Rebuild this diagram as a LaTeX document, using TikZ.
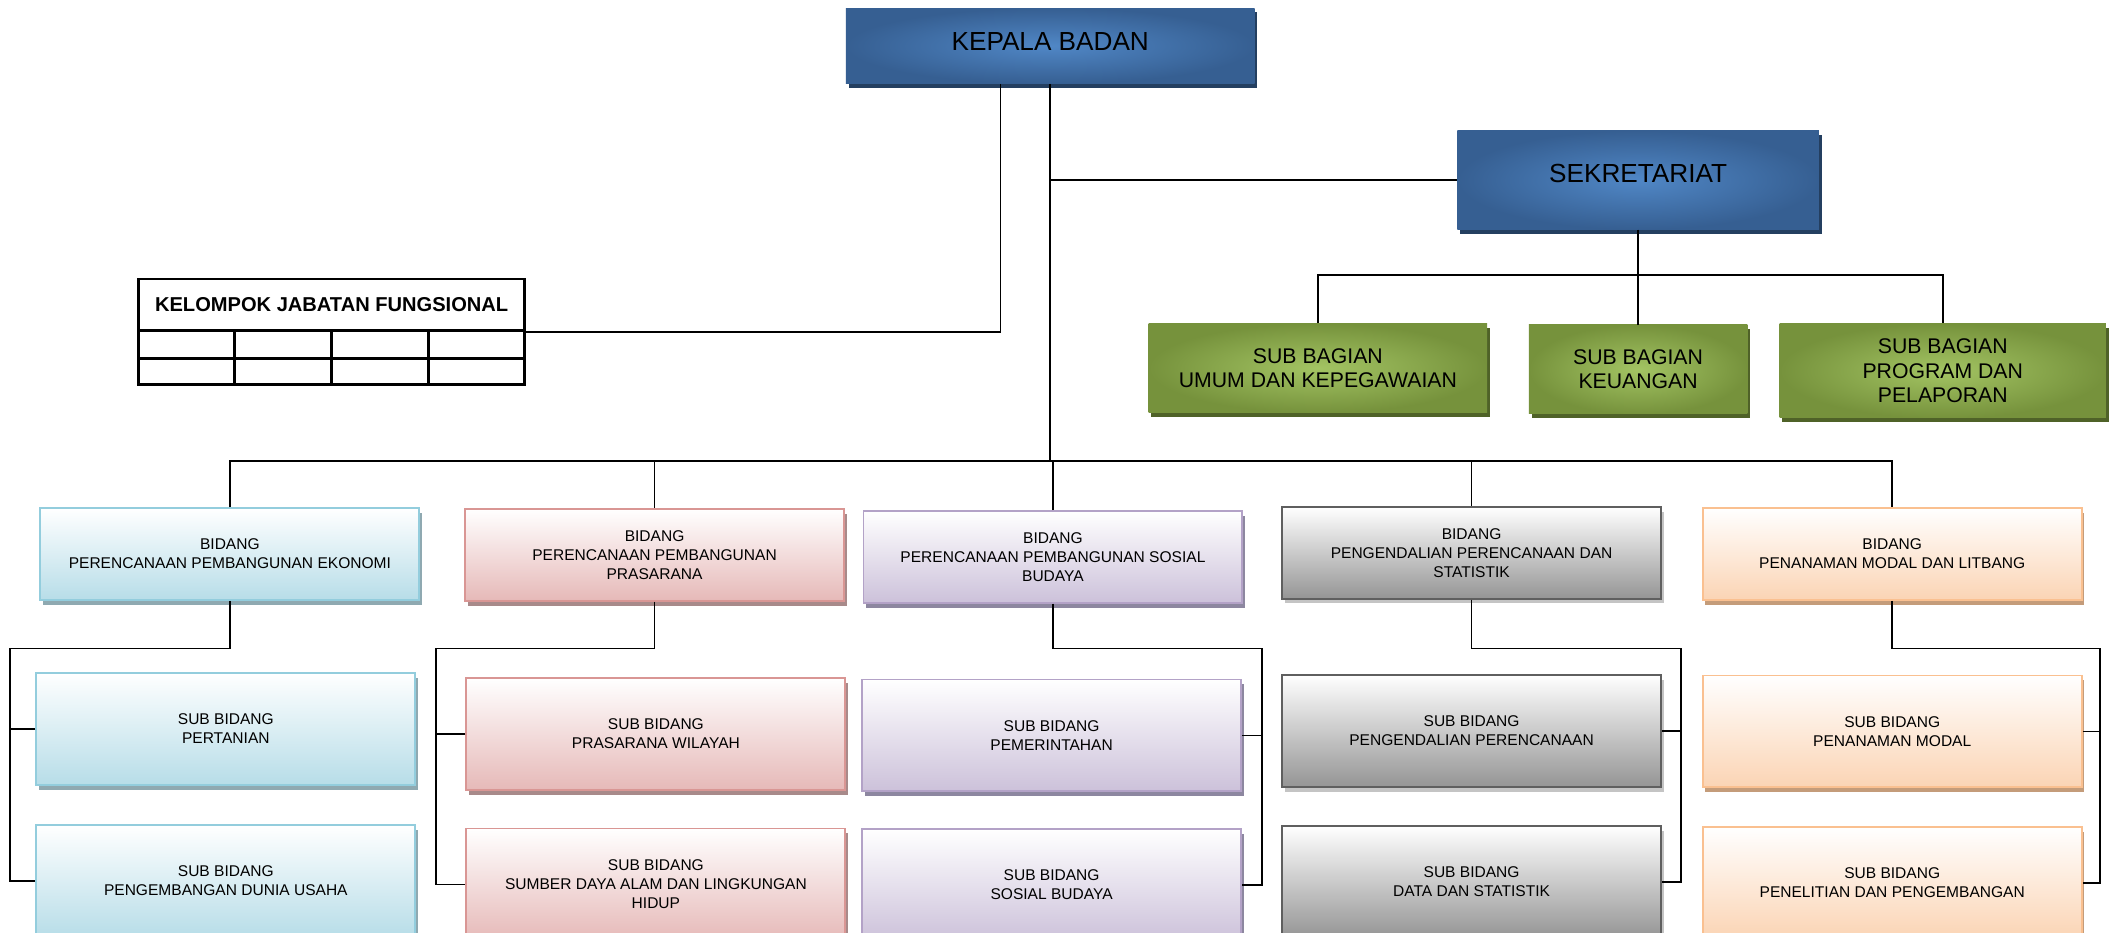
\documentclass[tikz,border=0pt]{standalone}
\usepackage{fontspec}
\setmainfont{Liberation Sans}
\usetikzlibrary{calc,shadows}

\definecolor{kbIn}{HTML}{5087C6}
\definecolor{kbOut}{HTML}{365F92}
\definecolor{kbSh}{HTML}{243F60}
\definecolor{sbIn}{HTML}{A3C463}
\definecolor{sbOut}{HTML}{76923C}
\definecolor{sbSh}{HTML}{4F6228}
\definecolor{ekoFill}{HTML}{B7DDE8}
\definecolor{ekoLine}{HTML}{93CDDD}
\definecolor{ekoSh}{HTML}{8FA9B1}
\definecolor{praFill}{HTML}{E6B9B8}
\definecolor{praLine}{HTML}{D99694}
\definecolor{praSh}{HTML}{A88A8A}
\definecolor{sosFill}{HTML}{CCC1DA}
\definecolor{sosLine}{HTML}{B3A2C7}
\definecolor{sosSh}{HTML}{8D87A0}
\definecolor{datFill}{HTML}{959595}
\definecolor{datLine}{HTML}{5F5F5F}
\definecolor{datSh}{HTML}{C4C4C4}
\definecolor{modFill}{HTML}{FBD4B4}
\definecolor{modLine}{HTML}{FAC090}
\definecolor{modSh}{HTML}{C49C7A}

\tikzset{
  conn/.style={line width=0.9pt},
  tbl/.style={line width=1.4pt},
  topbox/.style={rectangle, inner color=kbIn, outer color=kbOut, align=center,
    font=\fontsize{13.8}{16}\selectfont,
    drop shadow={shadow xshift=0.05cm, shadow yshift=-0.08cm, fill=kbSh, opacity=1}},
  greenbox/.style={rectangle, inner color=sbIn, outer color=sbOut, align=center,
    minimum height=1.65cm, font=\fontsize{11.2}{12.8}\selectfont,
    drop shadow={shadow xshift=0.05cm, shadow yshift=-0.08cm, fill=sbSh, opacity=1}},
  bidang/.style={rectangle, top color=white, bottom color=#1Fill, draw=#1Line,
    line width=1pt, minimum width=7.025cm, minimum height=1.7cm, align=center,
    font=\fontsize{8.2}{10}\selectfont,
    drop shadow={shadow xshift=0.05cm, shadow yshift=-0.09cm, fill=#1Sh, opacity=1}},
  subbid/.style={bidang=#1, minimum height=2.075cm}
}

\begin{document}
\begin{tikzpicture}[x=0.025cm,y=-0.025cm]
  \fill[white] (0,0) rectangle (1568,692);
  \useasboundingbox (0,0) rectangle (1568,692);

  % pimpinan dan sekretariat
  \node[topbox, minimum width=7.575cm, minimum height=1.4cm, text depth=0.15cm] (kepala) at (779,34) {KEPALA BADAN};
  \node[topbox, minimum width=6.7cm, minimum height=1.825cm, text depth=0.25cm] (sekr) at (1215,133.5) {SEKRETARIAT};
  \node[greenbox, minimum width=6.275cm] (umum) at (977.5,273) {SUB BAGIAN\\UMUM DAN KEPEGAWAIAN};
  \node[greenbox, minimum width=4.05cm] (keu) at (1215,274) {SUB BAGIAN\\KEUANGAN};
  \node[greenbox, minimum width=6.05cm, minimum height=1.75cm] (prog) at (1441,275) {SUB BAGIAN\\PROGRAM DAN\\PELAPORAN};

  % kelompok jabatan fungsional
  \node[draw, tbl, minimum width=7.15cm, minimum height=1.95cm] (kjf) at (246,246) {};
  \node[draw, tbl, anchor=north, minimum width=7.15cm, minimum height=0.95cm,
    font=\bfseries\fontsize{10.6}{12}\selectfont] (kjftitle) at (kjf.north) {KELOMPOK JABATAN FUNGSIONAL};
  \draw[tbl] ($(kjftitle.south west)!0.5!(kjf.south west)$) -- ($(kjftitle.south east)!0.5!(kjf.south east)$);
  \foreach \i in {1,2,3}
    \draw[tbl] ($(kjftitle.south west)!\i/4!(kjftitle.south east)$) -- ($(kjf.south west)!\i/4!(kjf.south east)$);

  % bidang
  \node[bidang=eko] (b1) at (170.5,411) {BIDANG\\PERENCANAAN PEMBANGUNAN EKONOMI};
  \node[bidang=pra] (b2) at (485.5,411.5) {BIDANG\\PERENCANAAN PEMBANGUNAN\\PRASARANA};
  \node[bidang=sos] (b3) at (781,413) {BIDANG\\PERENCANAAN PEMBANGUNAN SOSIAL\\BUDAYA};
  \node[bidang=dat] (b4) at (1091.5,410) {BIDANG\\PENGENDALIAN PERENCANAAN DAN\\STATISTIK};
  \node[bidang=mod] (b5) at (1403.5,411) {BIDANG\\PENANAMAN MODAL DAN LITBANG};

  % sub bidang
  \node[subbid=eko] (s11) at (167.5,540.5) {SUB BIDANG\\PERTANIAN};
  \node[subbid=eko] (s12) at (167.5,653.5) {SUB BIDANG\\PENGEMBANGAN DUNIA USAHA};
  \node[subbid=pra] (s21) at (486.5,544.5) {SUB BIDANG\\PRASARANA WILAYAH};
  \node[subbid=pra] (s22) at (486.5,656) {SUB BIDANG\\SUMBER DAYA ALAM DAN LINGKUNGAN\\HIDUP};
  \node[subbid=sos] (s31) at (780,545.5) {SUB BIDANG\\PEMERINTAHAN};
  \node[subbid=sos] (s32) at (780,656.5) {SUB BIDANG\\SOSIAL BUDAYA};
  \node[subbid=dat] (s41) at (1091.5,542) {SUB BIDANG\\PENGENDALIAN PERENCANAAN};
  \node[subbid=dat] (s42) at (1091.5,654) {SUB BIDANG\\DATA DAN STATISTIK};
  \node[subbid=mod] (s51) at (1403.5,542.5) {SUB BIDANG\\PENANAMAN MODAL};
  \node[subbid=mod] (s52) at (1403.5,655) {SUB BIDANG\\PENELITIAN DAN PENGEMBANGAN};

  % garis
  \coordinate (bus) at (0,342);
  \coordinate (lvl) at (0,481);
  \draw[conn] ($(kepala.south)+(-37,0)$) |- (kjf.east);
  \draw[conn] (kepala.south) -- (kepala.south |- bus);
  \draw[conn] (kepala.south |- sekr.west) -- (sekr.west);
  \draw[conn] (sekr.south) -- (keu.north);
  \draw[conn] (umum.north) -- ++(0,-36) -| (prog.north);
  \draw[conn] (b1.north) -- (b1.north |- bus) -| (b5.north);
  \foreach \b in {b2,b3,b4}
    \draw[conn] (\b.north) -- (\b.north |- bus);
  \foreach \b/\s/\t/\side/\off in {b1/s11/s12/west/-19, b2/s21/s22/west/-22,
      b3/s31/s32/east/15, b4/s41/s42/east/14, b5/s51/s52/east/13}{
    \draw[conn] (\b.south) -- (\b.south |- lvl) -| ($(\t.\side)+(\off,0)$) -- (\t.\side);
    \draw[conn] (\s.\side) -- ++(\off,0);
  }
\end{tikzpicture}
\end{document}
